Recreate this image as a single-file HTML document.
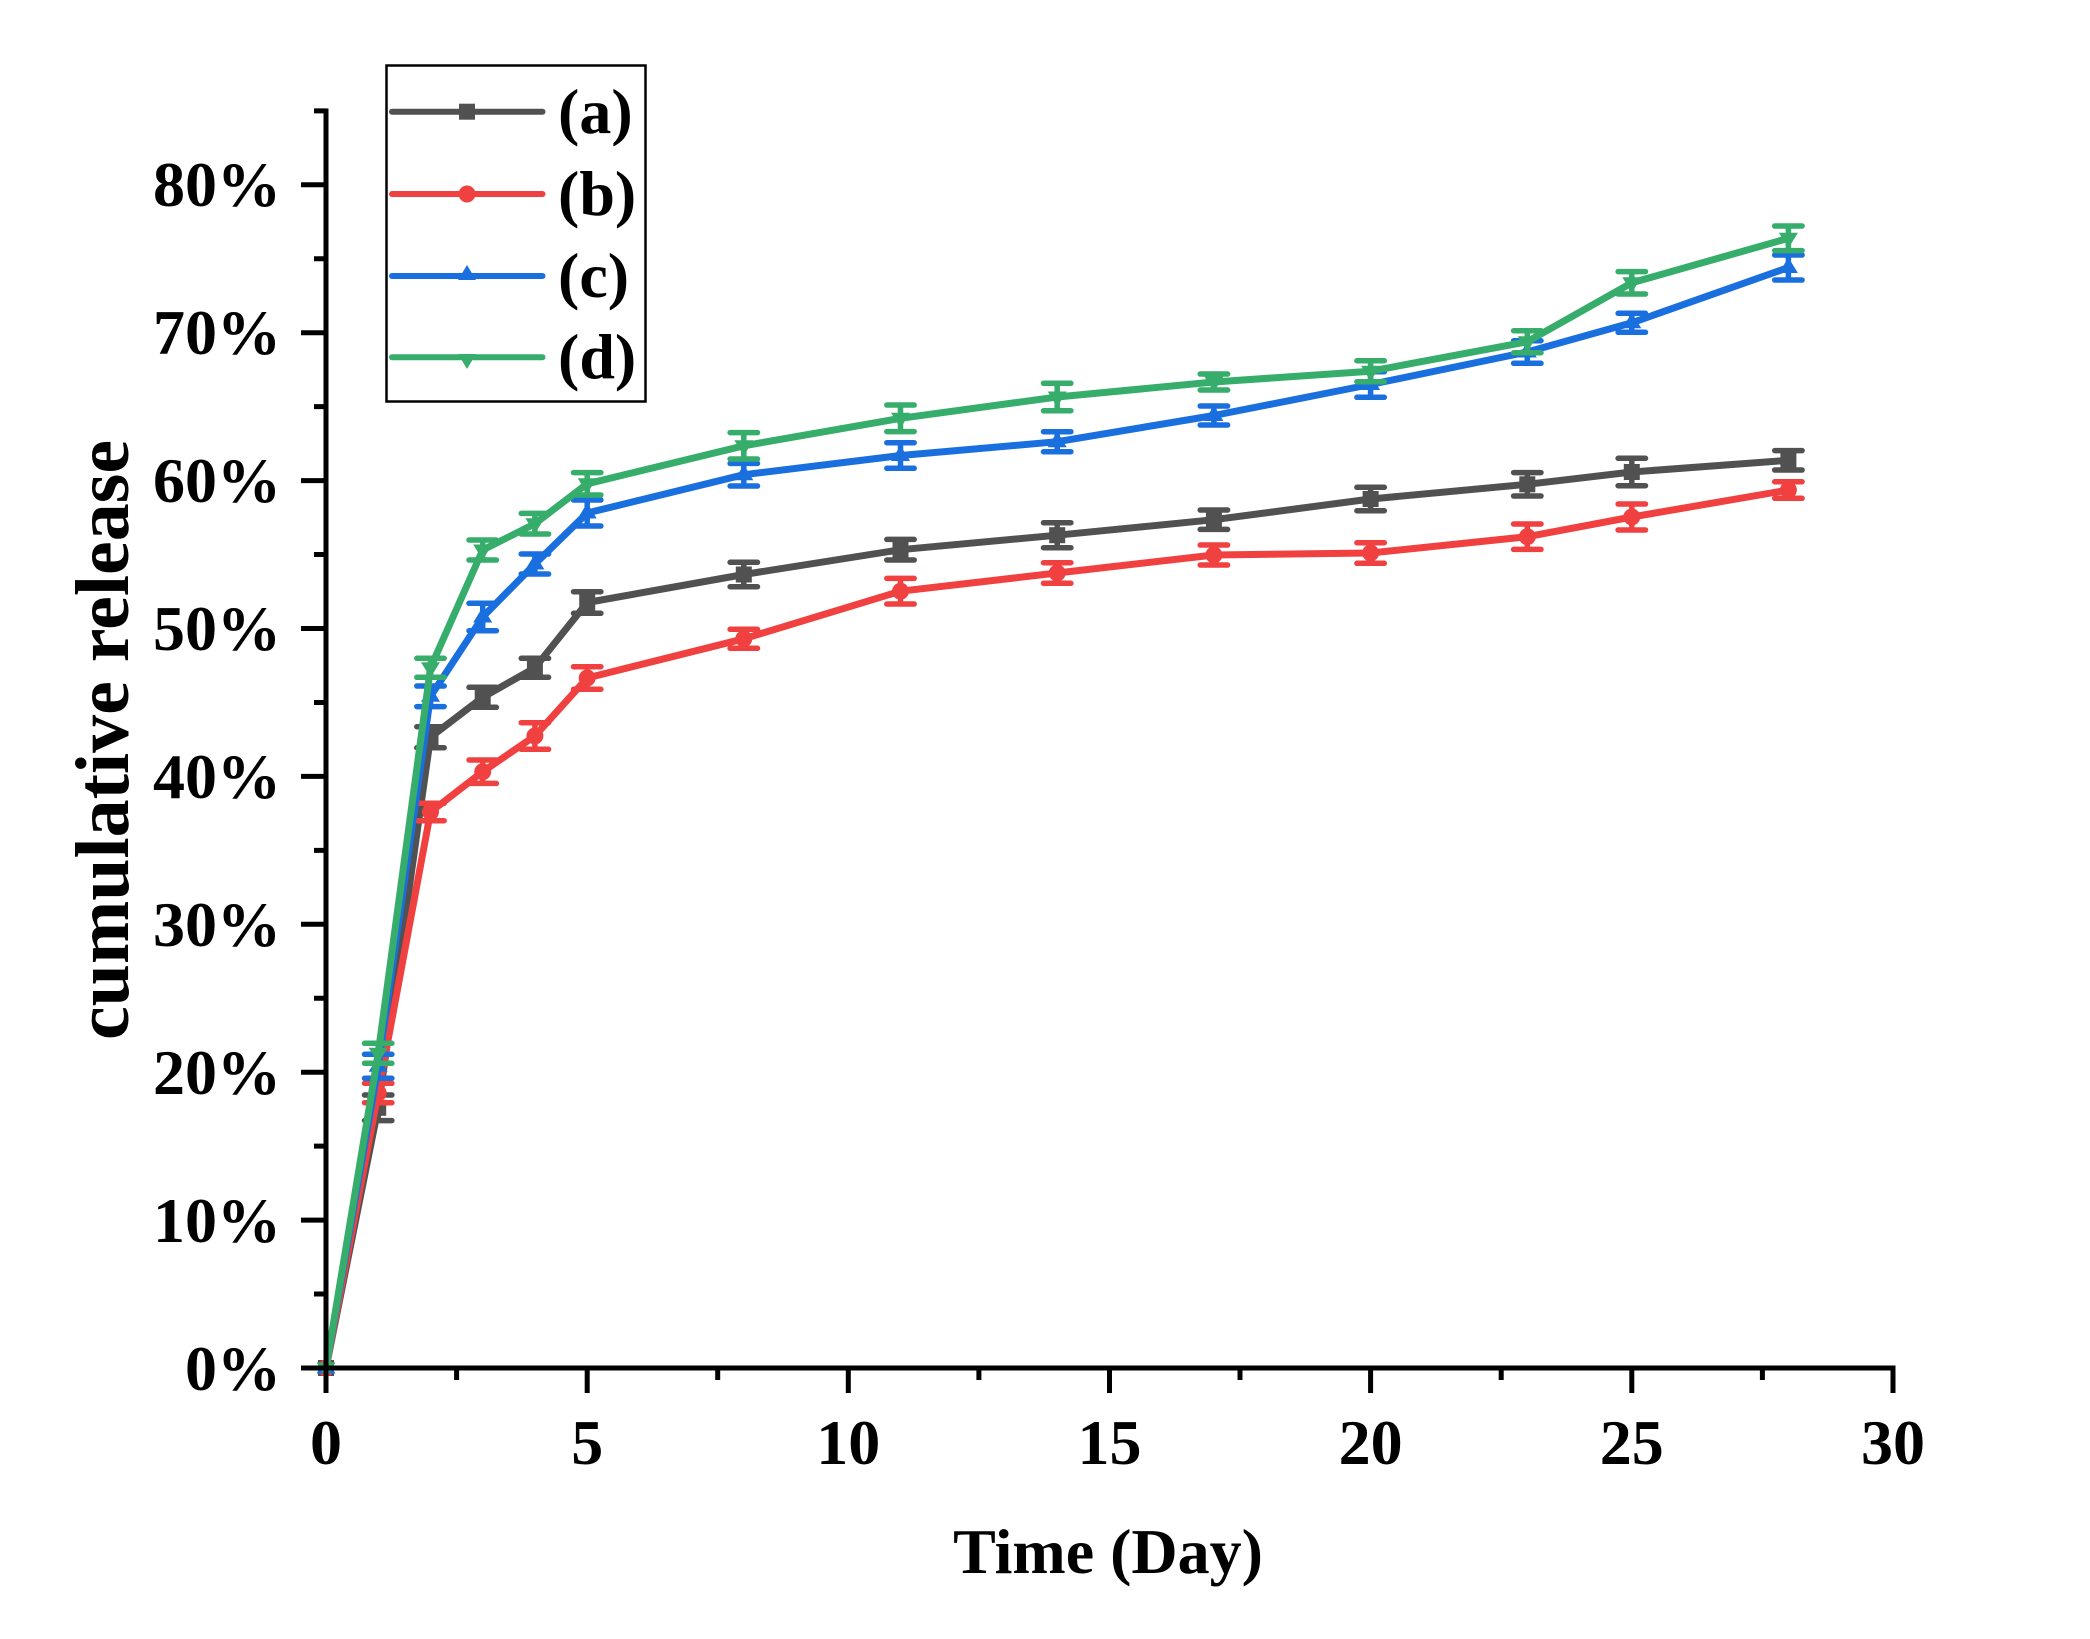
<!DOCTYPE html>
<html>
<head>
<meta charset="utf-8">
<style>
html,body{margin:0;padding:0;background:#fff;}
svg{display:block;}
text{font-family:"Liberation Serif","Times New Roman",serif;font-weight:bold;fill:#000;}
</style>
</head>
<body>
<svg width="2090" height="1639" viewBox="0 0 2090 1639" xmlns="http://www.w3.org/2000/svg">
<rect width="2090" height="1639" fill="#fff"/>

<!-- Series (a) gray -->
<g stroke="#515151" fill="none" stroke-linejoin="round" stroke-linecap="round">
<polyline stroke-width="7" points="326,1368 378.2,1107.8 430.5,737.2 482.7,697.3 534.9,667.8 587.2,602.5 743.8,574.5 900.5,549.7 1057.2,535.2 1213.9,519.7 1370.6,499 1527.3,484.3 1631.8,472 1788.4,460.3"/>
<g stroke-width="5.5">
<path d="M378.2,1095V1120.6M364.5,1095H391.9M364.5,1120.6H391.9"/>
<path d="M430.5,726.7V747.7M416.8,726.7H444.2M416.8,747.7H444.2"/>
<path d="M482.7,687.3V707.3M469,687.3H496.4M469,707.3H496.4"/>
<path d="M534.9,658.3V677.3M521.2,658.3H548.6M521.2,677.3H548.6"/>
<path d="M587.2,591.7V613.3M573.5,591.7H600.9M573.5,613.3H600.9"/>
<path d="M743.8,562.3V586.7M730.1,562.3H757.5M730.1,586.7H757.5"/>
<path d="M900.5,539.4V560M886.8,539.4H914.2M886.8,560H914.2"/>
<path d="M1057.2,522.7V547.7M1043.5,522.7H1070.9M1043.5,547.7H1070.9"/>
<path d="M1213.9,510V529.4M1200.2,510H1227.6M1200.2,529.4H1227.6"/>
<path d="M1370.6,487.3V510.7M1356.9,487.3H1384.3M1356.9,510.7H1384.3"/>
<path d="M1527.3,472.6V496M1513.6,472.6H1541M1513.6,496H1541"/>
<path d="M1631.8,458.3V485.7M1618.1,458.3H1645.5M1618.1,485.7H1645.5"/>
<path d="M1788.4,450.6V470M1774.7,450.6H1802.1M1774.7,470H1802.1"/>
</g>
</g>
<g fill="#515151">
<rect x="318" y="1360" width="16" height="16"/>
<rect x="370.2" y="1099.8" width="16" height="16"/>
<rect x="422.5" y="729.2" width="16" height="16"/>
<rect x="474.7" y="689.3" width="16" height="16"/>
<rect x="526.9" y="659.8" width="16" height="16"/>
<rect x="579.2" y="594.5" width="16" height="16"/>
<rect x="735.8" y="566.5" width="16" height="16"/>
<rect x="892.5" y="541.7" width="16" height="16"/>
<rect x="1049.2" y="527.2" width="16" height="16"/>
<rect x="1205.9" y="511.7" width="16" height="16"/>
<rect x="1362.6" y="491" width="16" height="16"/>
<rect x="1519.3" y="476.3" width="16" height="16"/>
<rect x="1623.8" y="464" width="16" height="16"/>
<rect x="1780.4" y="452.3" width="16" height="16"/>
</g>

<!-- Series (b) red -->
<g stroke="#F14040" fill="none" stroke-linejoin="round" stroke-linecap="round">
<polyline stroke-width="7" points="326,1368 378.2,1093 430.5,812 482.7,771.7 534.9,736 587.2,678 743.8,638.8 900.5,591.2 1057.2,573 1213.9,555 1370.6,553 1527.3,536.7 1631.8,517 1788.4,490"/>
<g stroke-width="5.5">
<path d="M378.2,1083.3V1102.7M364.5,1083.3H391.9M364.5,1102.7H391.9"/>
<path d="M430.5,803.3V820.7M416.8,803.3H444.2M416.8,820.7H444.2"/>
<path d="M482.7,760V783.4M469,760H496.4M469,783.4H496.4"/>
<path d="M534.9,722.7V749.3M521.2,722.7H548.6M521.2,749.3H548.6"/>
<path d="M587.2,666.7V689.3M573.5,666.7H600.9M573.5,689.3H600.9"/>
<path d="M743.8,629.3V648.3M730.1,629.3H757.5M730.1,648.3H757.5"/>
<path d="M900.5,578.4V604M886.8,578.4H914.2M886.8,604H914.2"/>
<path d="M1057.2,562.7V583.3M1043.5,562.7H1070.9M1043.5,583.3H1070.9"/>
<path d="M1213.9,545V565M1200.2,545H1227.6M1200.2,565H1227.6"/>
<path d="M1370.6,542.7V563.3M1356.9,542.7H1384.3M1356.9,563.3H1384.3"/>
<path d="M1527.3,524V549.4M1513.6,524H1541M1513.6,549.4H1541"/>
<path d="M1631.8,504V530M1618.1,504H1645.5M1618.1,530H1645.5"/>
<path d="M1788.4,481.7V498.3M1774.7,481.7H1802.1M1774.7,498.3H1802.1"/>
</g>
</g>
<g fill="#F14040">
<circle cx="326" cy="1368" r="8.5"/>
<circle cx="378.2" cy="1093" r="8.5"/>
<circle cx="430.5" cy="812" r="8.5"/>
<circle cx="482.7" cy="771.7" r="8.5"/>
<circle cx="534.9" cy="736" r="8.5"/>
<circle cx="587.2" cy="678" r="8.5"/>
<circle cx="743.8" cy="638.8" r="8.5"/>
<circle cx="900.5" cy="591.2" r="8.5"/>
<circle cx="1057.2" cy="573" r="8.5"/>
<circle cx="1213.9" cy="555" r="8.5"/>
<circle cx="1370.6" cy="553" r="8.5"/>
<circle cx="1527.3" cy="536.7" r="8.5"/>
<circle cx="1631.8" cy="517" r="8.5"/>
<circle cx="1788.4" cy="490" r="8.5"/>
</g>

<!-- Series (c) blue -->
<g stroke="#1A6FDF" fill="none" stroke-linejoin="round" stroke-linecap="round">
<polyline stroke-width="7" points="326,1368 378.2,1066.3 430.5,696.3 482.7,617 534.9,564 587.2,513 743.8,474.7 900.5,455.5 1057.2,441.7 1213.9,415.5 1370.6,384.5 1527.3,352 1631.8,322.8 1788.4,267.5"/>
<g stroke-width="5.5">
<path d="M378.2,1054.3V1078.3M364.5,1054.3H391.9M364.5,1078.3H391.9"/>
<path d="M430.5,686V706.6M416.8,686H444.2M416.8,706.6H444.2"/>
<path d="M482.7,603.3V630.7M469,603.3H496.4M469,630.7H496.4"/>
<path d="M534.9,554V574M521.2,554H548.6M521.2,574H548.6"/>
<path d="M587.2,500V526M573.5,500H600.9M573.5,526H600.9"/>
<path d="M743.8,463.4V486M730.1,463.4H757.5M730.1,486H757.5"/>
<path d="M900.5,442.7V468.3M886.8,442.7H914.2M886.8,468.3H914.2"/>
<path d="M1057.2,431.7V451.7M1043.5,431.7H1070.9M1043.5,451.7H1070.9"/>
<path d="M1213.9,406V425M1200.2,406H1227.6M1200.2,425H1227.6"/>
<path d="M1370.6,371.7V397.3M1356.9,371.7H1384.3M1356.9,397.3H1384.3"/>
<path d="M1527.3,340.7V363.3M1513.6,340.7H1541M1513.6,363.3H1541"/>
<path d="M1631.8,313.3V332.3M1618.1,313.3H1645.5M1618.1,332.3H1645.5"/>
<path d="M1788.4,255V280M1774.7,255H1802.1M1774.7,280H1802.1"/>
</g>
</g>
<g fill="#1A6FDF">
<path d="M326,1358l9.5,15.5h-19z"/>
<path d="M378.2,1056.3l9.5,15.5h-19z"/>
<path d="M430.5,686.3l9.5,15.5h-19z"/>
<path d="M482.7,607l9.5,15.5h-19z"/>
<path d="M534.9,554l9.5,15.5h-19z"/>
<path d="M587.2,503l9.5,15.5h-19z"/>
<path d="M743.8,464.7l9.5,15.5h-19z"/>
<path d="M900.5,445.5l9.5,15.5h-19z"/>
<path d="M1057.2,431.7l9.5,15.5h-19z"/>
<path d="M1213.9,405.5l9.5,15.5h-19z"/>
<path d="M1370.6,374.5l9.5,15.5h-19z"/>
<path d="M1527.3,342l9.5,15.5h-19z"/>
<path d="M1631.8,312.8l9.5,15.5h-19z"/>
<path d="M1788.4,257.5l9.5,15.5h-19z"/>
</g>

<!-- Series (d) green -->
<g stroke="#37AD6B" fill="none" stroke-linejoin="round" stroke-linecap="round">
<polyline stroke-width="7" points="326,1368 378.2,1053.3 430.5,667.8 482.7,550 534.9,523.7 587.2,483.8 743.8,445.8 900.5,418.3 1057.2,397 1213.9,382 1370.6,371.2 1527.3,341.7 1631.8,282.8 1788.4,238.3"/>
<g stroke-width="5.5">
<path d="M378.2,1043.3V1063.3M364.5,1043.3H391.9M364.5,1063.3H391.9"/>
<path d="M430.5,658.3V677.3M416.8,658.3H444.2M416.8,677.3H444.2"/>
<path d="M482.7,540V560M469,540H496.4M469,560H496.4"/>
<path d="M534.9,513.4V534M521.2,513.4H548.6M521.2,534H548.6"/>
<path d="M587.2,472.6V495M573.5,472.6H600.9M573.5,495H600.9"/>
<path d="M743.8,432.6V459M730.1,432.6H757.5M730.1,459H757.5"/>
<path d="M900.5,405V431.6M886.8,405H914.2M886.8,431.6H914.2"/>
<path d="M1057.2,383.3V410.7M1043.5,383.3H1070.9M1043.5,410.7H1070.9"/>
<path d="M1213.9,374V390M1200.2,374H1227.6M1200.2,390H1227.6"/>
<path d="M1370.6,360.7V381.7M1356.9,360.7H1384.3M1356.9,381.7H1384.3"/>
<path d="M1527.3,330.7V352.7M1513.6,330.7H1541M1513.6,352.7H1541"/>
<path d="M1631.8,271.6V294M1618.1,271.6H1645.5M1618.1,294H1645.5"/>
<path d="M1788.4,226V250.6M1774.7,226H1802.1M1774.7,250.6H1802.1"/>
</g>
</g>
<g fill="#37AD6B">
<path d="M326,1378l9.5,-15.5h-19z"/>
<path d="M378.2,1063.3l9.5,-15.5h-19z"/>
<path d="M430.5,677.8l9.5,-15.5h-19z"/>
<path d="M482.7,560l9.5,-15.5h-19z"/>
<path d="M534.9,533.7l9.5,-15.5h-19z"/>
<path d="M587.2,493.8l9.5,-15.5h-19z"/>
<path d="M743.8,455.8l9.5,-15.5h-19z"/>
<path d="M900.5,428.3l9.5,-15.5h-19z"/>
<path d="M1057.2,407l9.5,-15.5h-19z"/>
<path d="M1213.9,392l9.5,-15.5h-19z"/>
<path d="M1370.6,381.2l9.5,-15.5h-19z"/>
<path d="M1527.3,351.7l9.5,-15.5h-19z"/>
<path d="M1631.8,292.8l9.5,-15.5h-19z"/>
<path d="M1788.4,248.3l9.5,-15.5h-19z"/>
</g>

<!-- Axes -->
<g stroke="#000" stroke-width="5" fill="none">
<line x1="326" y1="108.5" x2="326" y2="1370.5"/>
<line x1="323.5" y1="1368" x2="1895.5" y2="1368"/>
<path d="M301,1368H326M301,1220.1H326M301,1072.2H326M301,924.3H326M301,776.4H326M301,628.5H326M301,480.6H326M301,332.7H326M301,184.8H326"/>
<path d="M314,1294.05H326M314,1146.15H326M314,998.25H326M314,850.35H326M314,702.45H326M314,554.55H326M314,406.65H326M314,258.75H326M314,110.9H326"/>
<path d="M326,1368V1393M587.2,1368V1393M848.3,1368V1393M1109.5,1368V1393M1370.6,1368V1393M1631.8,1368V1393M1893,1368V1393"/>
<path d="M456.6,1368V1380M717.7,1368V1380M978.9,1368V1380M1240,1368V1380M1501.2,1368V1380M1762.4,1368V1380"/>
</g>

<!-- Y tick labels -->
<g font-size="64" text-anchor="end">
<text x="281" y="1390">0%</text>
<text x="281" y="1242">10%</text>
<text x="281" y="1094">20%</text>
<text x="281" y="946">30%</text>
<text x="281" y="798">40%</text>
<text x="281" y="650">50%</text>
<text x="281" y="502">60%</text>
<text x="281" y="354">70%</text>
<text x="281" y="206">80%</text>
</g>

<!-- X tick labels -->
<g font-size="64" text-anchor="middle">
<text x="326" y="1464">0</text>
<text x="587.2" y="1464">5</text>
<text x="848.3" y="1464">10</text>
<text x="1109.5" y="1464">15</text>
<text x="1370.6" y="1464">20</text>
<text x="1631.8" y="1464">25</text>
<text x="1893" y="1464">30</text>
</g>

<!-- Axis titles -->
<text x="1108" y="1573" font-size="64" text-anchor="middle">Time (Day)</text>
<text transform="translate(128,740) rotate(-90)" font-size="76" text-anchor="middle">cumulative release</text>

<!-- Legend -->
<rect x="386.5" y="65.5" width="259" height="336" fill="#fff" stroke="#000" stroke-width="2.5"/>
<g stroke-width="6" stroke-linecap="round">
<line x1="392" y1="111.7" x2="542.5" y2="111.7" stroke="#515151"/>
<line x1="392" y1="194" x2="542.5" y2="194" stroke="#F14040"/>
<line x1="392" y1="276" x2="542.5" y2="276" stroke="#1A6FDF"/>
<line x1="392" y1="357.3" x2="542.5" y2="357.3" stroke="#37AD6B"/>
</g>
<rect x="459" y="103.7" width="16" height="16" fill="#515151"/>
<circle cx="467" cy="194" r="8.5" fill="#F14040"/>
<path d="M467,265l9,15h-18z" fill="#1A6FDF"/>
<path d="M467,369l9,-15h-18z" fill="#37AD6B"/>
<g font-size="64">
<text x="558" y="133">(a)</text>
<text x="558" y="215">(b)</text>
<text x="558" y="297">(c)</text>
<text x="558" y="378">(d)</text>
</g>
</svg>
</body>
</html>
